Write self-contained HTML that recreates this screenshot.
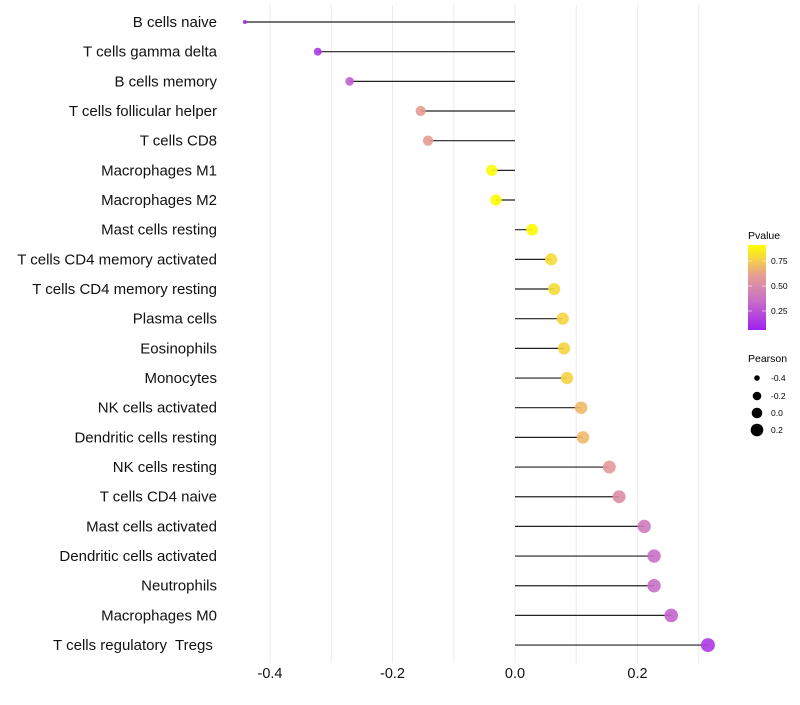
<!DOCTYPE html>
<html><head><meta charset="utf-8"><style>
body{margin:0;background:#fff;font-family:"Liberation Sans",sans-serif}
svg text{font-family:"Liberation Sans",sans-serif;white-space:pre}
</style></head><body>
<svg id="chart" width="800" height="700" xmlns="http://www.w3.org/2000/svg">
<defs><linearGradient id="pgrad" x1="0" y1="1" x2="0" y2="0">
<stop offset="0" stop-color="#a020f0"/><stop offset="0.35" stop-color="#c870c8"/><stop offset="0.65" stop-color="#e8a090"/><stop offset="1" stop-color="#ffff00"/>
</linearGradient></defs>
<g id="grid"></g><g id="marks"></g><g id="labels"></g><g id="ticks"></g>
<g>
<text x="748" y="239" font-size="10.5" fill="#000">Pvalue</text>
<rect x="748" y="245" width="18" height="85" fill="url(#pgrad)"/>
<line x1="748" y1="261" x2="752" y2="261" stroke="#fff" opacity="0.6"/><line x1="762" y1="261" x2="766" y2="261" stroke="#fff" opacity="0.6"/>
<line x1="748" y1="286" x2="752" y2="286" stroke="#fff" opacity="0.6"/><line x1="762" y1="286" x2="766" y2="286" stroke="#fff" opacity="0.6"/>
<line x1="748" y1="311" x2="752" y2="311" stroke="#fff" opacity="0.6"/><line x1="762" y1="311" x2="766" y2="311" stroke="#fff" opacity="0.6"/>
<text x="771" y="264" font-size="8.5">0.75</text><text x="771" y="289" font-size="8.5">0.50</text><text x="771" y="314" font-size="8.5">0.25</text>
</g>
<g>
<text x="748" y="362" font-size="10.5">Pearson</text>
<circle cx="757" cy="378" r="2.8" fill="#000"/><text x="771" y="381" font-size="8.5">-0.4</text>
<circle cx="757" cy="396" r="4.3" fill="#000"/><text x="771" y="399" font-size="8.5">-0.2</text>
<circle cx="757" cy="413" r="5.3" fill="#000"/><text x="771" y="416" font-size="8.5">0.0</text>
<circle cx="757" cy="430" r="6.3" fill="#000"/><text x="771" y="433" font-size="8.5">0.2</text>
</g>
</svg>
<script>
const categories=["B cells naive","T cells gamma delta","B cells memory","T cells follicular helper","T cells CD8","Macrophages M1","Macrophages M2","Mast cells resting","T cells CD4 memory activated","T cells CD4 memory resting","Plasma cells","Eosinophils","Monocytes","NK cells activated","Dendritic cells resting","NK cells resting","T cells CD4 naive","Mast cells activated","Dendritic cells activated","Neutrophils","Macrophages M0","T cells regulatory  Tregs "];
const pearson=[-0.441,-0.322,-0.270,-0.154,-0.142,-0.038,-0.031,0.028,0.059,0.064,0.078,0.080,0.085,0.108,0.111,0.154,0.170,0.211,0.227,0.227,0.255,0.315];
const pvalues=[0.07,0.15,0.3,0.6,0.6,0.9,0.9,0.9,0.8,0.8,0.78,0.78,0.78,0.7,0.7,0.58,0.52,0.42,0.36,0.36,0.32,0.16];
const xTicks=[-0.4,-0.2,0.0,0.2];
const xTickLabels=["-0.4","-0.2","0.0","0.2"];
const gridVals=[-0.4,-0.3,-0.2,-0.1,0,0.1,0.2,0.3];
const NS="http://www.w3.org/2000/svg";
const x=v=>515+v*612.5;
const y=i=>22+i*29.67;
const rad=v=>2+5*Math.sqrt(Math.max(0,(v+0.44)/0.755));
const stops=[[0.06,[160,32,240]],[0.36,[200,112,200]],[0.62,[232,160,144]],[0.91,[255,255,0]]];
function col(p){if(p<=stops[0][0])return "rgb("+stops[0][1]+")";for(let k=1;k<stops.length;k++){if(p<=stops[k][0]){const a=stops[k-1],b=stops[k],t=(p-a[0])/(b[0]-a[0]);return "rgb("+a[1].map((c,j)=>Math.round(c+(b[1][j]-c)*t)).join(",")+")";}}return "rgb("+stops[3][1]+")";}
function mk(t,at,parent){const e=document.createElementNS(NS,t);for(const k in at)e.setAttribute(k,at[k]);document.getElementById(parent).appendChild(e);return e;}
gridVals.forEach(v=>{const l=mk("line",{x1:x(v),x2:x(v),y1:5,y2:663,stroke:"#ebebeb","stroke-width":1},"grid");

});
categories.forEach((c,i)=>{
const l=mk("line",{x1:x(0),x2:x(pearson[i]),y1:y(i),y2:y(i),stroke:"#222","stroke-width":1.2},"marks");


const d=mk("circle",{cx:x(pearson[i]),cy:y(i),r:rad(pearson[i]),fill:col(pvalues[i]),opacity:0.9},"marks");


const t=mk("text",{x:217,y:y(i)+5,"text-anchor":"end","font-size":15,fill:"#111"},"labels");
t.textContent=c;


});
xTicks.forEach((v,i)=>{const t=mk("text",{x:x(v),y:678,"text-anchor":"middle","font-size":14.5,fill:"#111"},"ticks");
t.textContent=xTickLabels[i];

});
</script>
</body></html>
